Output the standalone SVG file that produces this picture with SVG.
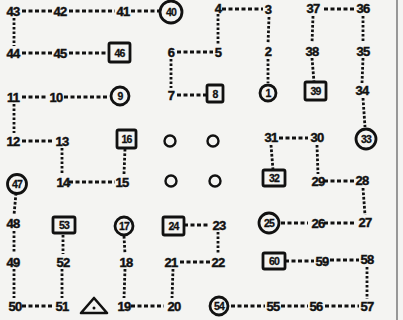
<svg xmlns="http://www.w3.org/2000/svg" width="403" height="320" viewBox="0 0 403 320">
<style>
text{font-family:"Liberation Sans",Arial,sans-serif;font-weight:bold;font-size:13px;fill:#111;stroke:#111;stroke-width:0.45;text-anchor:middle;letter-spacing:-0.8px}
.c text,.b text{font-size:10.5px;stroke-width:0.3}
.c circle{fill:none;stroke:#111;stroke-width:2.8}
.b rect{fill:none;stroke:#111;stroke-width:2.8}
.o circle{fill:none;stroke:#111;stroke-width:2.4}
#connectors line{stroke:#111;stroke-width:2.8}
#connectors .h line{stroke-dasharray:4 2.5}
#connectors .v line{stroke-dasharray:2.6 1.9}
</style>
<rect width="403" height="320" fill="#f4f4f2"/>
<line x1="397" y1="0" x2="397" y2="320" stroke="#666" stroke-width="1.3"/>
<g id="connectors">
<g class="h">
<line x1="22" y1="11" x2="53" y2="11"/><line x1="69" y1="11" x2="115" y2="11"/><line x1="131" y1="11" x2="159" y2="11"/>
<line x1="222" y1="9" x2="263" y2="9"/><line x1="324" y1="9" x2="356" y2="9"/>
<line x1="22" y1="53" x2="53" y2="53"/><line x1="69" y1="53" x2="108" y2="53"/><line x1="177" y1="52" x2="213" y2="52"/>
<line x1="22" y1="97" x2="48" y2="97"/><line x1="64" y1="97" x2="108" y2="97"/><line x1="177" y1="95" x2="206" y2="95"/>
<line x1="22" y1="141" x2="53" y2="141"/><line x1="279" y1="138" x2="308" y2="138"/>
<line x1="69" y1="182" x2="115" y2="182"/><line x1="324" y1="181" x2="355" y2="181"/>
<line x1="184" y1="225" x2="210" y2="225"/><line x1="281" y1="223" x2="308" y2="223"/><line x1="324" y1="223" x2="356" y2="223"/>
<line x1="180" y1="262" x2="210" y2="262"/><line x1="285" y1="261" x2="314" y2="261"/><line x1="330" y1="260" x2="359" y2="260"/>
<line x1="22" y1="306" x2="53" y2="306"/><line x1="131" y1="306" x2="164" y2="306"/><line x1="231" y1="306" x2="265" y2="306"/><line x1="281" y1="306" x2="308" y2="306"/><line x1="325" y1="306" x2="359" y2="306"/>
</g>
<g class="v">
<line x1="14" y1="18" x2="14" y2="46"/><line x1="14" y1="104" x2="14" y2="133"/>
<line x1="16" y1="193" x2="14" y2="215"/><line x1="14" y1="231" x2="14" y2="253"/><line x1="14" y1="269" x2="14" y2="298"/>
<line x1="62" y1="148" x2="62" y2="174"/><line x1="62" y1="269" x2="62" y2="298"/><line x1="63" y1="235" x2="63" y2="254"/>
<line x1="124" y1="174" x2="125" y2="149"/><line x1="124" y1="236" x2="125" y2="254"/><line x1="125" y1="269" x2="124" y2="298"/>
<line x1="171" y1="59" x2="171" y2="88"/><line x1="173" y1="269" x2="172" y2="298"/>
<line x1="218" y1="14" x2="218" y2="45"/><line x1="218" y1="232" x2="218" y2="254"/>
<line x1="269" y1="17" x2="268" y2="44"/><line x1="268" y1="59" x2="268" y2="83"/><line x1="271" y1="145" x2="273" y2="170"/>
<line x1="313" y1="16" x2="312" y2="43"/><line x1="312" y1="58" x2="314" y2="82"/><line x1="317" y1="145" x2="318" y2="174"/>
<line x1="363" y1="16" x2="363" y2="43"/><line x1="363" y1="58" x2="362" y2="83"/><line x1="363" y1="98" x2="365" y2="127"/>
<line x1="363" y1="188" x2="365" y2="215"/><line x1="367" y1="267" x2="367" y2="299"/>
</g>
</g>
<g id="n43"><text x="13" y="15.5">43</text></g>
<g id="n42"><text x="60" y="15.5">42</text></g>
<g id="n41"><text x="123" y="15.5">41</text></g>
<g id="n40" class="c"><circle cx="171" cy="12" r="11"/><text x="171" y="16">40</text></g>
<g id="n4"><text x="218" y="12.5">4</text></g>
<g id="n3"><text x="268" y="13.5">3</text></g>
<g id="n37"><text x="313" y="12.5">37</text></g>
<g id="n36"><text x="363" y="12.5">36</text></g>
<g id="n44"><text x="13" y="57.5">44</text></g>
<g id="n45"><text x="60" y="57.5">45</text></g>
<g id="n46" class="b"><rect x="109" y="43" width="21" height="19" rx="1.5"/><text x="119.5" y="56.5">46</text></g>
<g id="n6"><text x="171" y="56.5">6</text></g>
<g id="n5"><text x="218" y="56.5">5</text></g>
<g id="n2"><text x="268" y="55.5">2</text></g>
<g id="n38"><text x="312" y="55.5">38</text></g>
<g id="n35"><text x="363" y="55.5">35</text></g>
<g id="n11"><text x="13" y="101.5">11</text></g>
<g id="n10"><text x="56" y="101.5">10</text></g>
<g id="n9" class="c"><circle cx="120" cy="96" r="9"/><text x="120" y="100">9</text></g>
<g id="n7"><text x="171" y="99.5">7</text></g>
<g id="n8" class="b"><rect x="207" y="85" width="16" height="17" rx="1.5"/><text x="215" y="97.5">8</text></g>
<g id="n1" class="c"><circle cx="268" cy="93" r="8"/><text x="268" y="97">1</text></g>
<g id="n39" class="b"><rect x="305" y="82" width="21" height="18" rx="1.5"/><text x="315.5" y="95">39</text></g>
<g id="n34"><text x="362" y="94.5">34</text></g>
<g id="n12"><text x="13" y="145.5">12</text></g>
<g id="n13"><text x="62" y="145.5">13</text></g>
<g id="n16" class="b"><rect x="117" y="130" width="19" height="18" rx="1.5"/><text x="126.5" y="143">16</text></g>
<g id="o1" class="o"><circle cx="170" cy="141" r="5.5"/></g>
<g id="o2" class="o"><circle cx="213" cy="141" r="5.5"/></g>
<g id="n31"><text x="271" y="141.5">31</text></g>
<g id="n30"><text x="317" y="141.5">30</text></g>
<g id="n33" class="c"><circle cx="366" cy="139" r="10"/><text x="366" y="143">33</text></g>
<g id="n47" class="c"><circle cx="17" cy="184" r="9.5"/><text x="17" y="188">47</text></g>
<g id="n14"><text x="63" y="186.5">14</text></g>
<g id="n15"><text x="122" y="186.5">15</text></g>
<g id="o3" class="o"><circle cx="171" cy="181" r="5.5"/></g>
<g id="o4" class="o"><circle cx="215" cy="181" r="5.5"/></g>
<g id="n32" class="b"><rect x="263" y="170" width="22" height="16" rx="1.5"/><text x="274" y="182">32</text></g>
<g id="n29"><text x="318" y="185.5">29</text></g>
<g id="n28"><text x="362" y="184.5">28</text></g>
<g id="n48"><text x="13" y="227.5">48</text></g>
<g id="n53" class="b"><rect x="53" y="217" width="22" height="16" rx="1.5"/><text x="64" y="229">53</text></g>
<g id="n17" class="c"><circle cx="124" cy="226" r="9"/><text x="124" y="230">17</text></g>
<g id="n24" class="b"><rect x="163" y="217" width="21" height="18" rx="1.5"/><text x="173.5" y="230">24</text></g>
<g id="n23"><text x="219" y="229.5">23</text></g>
<g id="n25" class="c"><circle cx="269" cy="223" r="10"/><text x="269" y="227">25</text></g>
<g id="n26"><text x="318" y="227.5">26</text></g>
<g id="n27"><text x="365" y="226.5">27</text></g>
<g id="n49"><text x="13" y="266.5">49</text></g>
<g id="n52"><text x="63" y="266.5">52</text></g>
<g id="n18"><text x="126" y="266.5">18</text></g>
<g id="n21"><text x="171" y="266.5">21</text></g>
<g id="n22"><text x="218" y="266.5">22</text></g>
<g id="n60" class="b"><rect x="263" y="253" width="22" height="16" rx="1.5"/><text x="274" y="265">60</text></g>
<g id="n59"><text x="322" y="265.5">59</text></g>
<g id="n58"><text x="367" y="263.5">58</text></g>
<g id="n50"><text x="15" y="310.5">50</text></g>
<g id="n51"><text x="62" y="310.5">51</text></g>
<g id="tri"><polygon points="94,298 81,313 107,313" fill="none" stroke="#111" stroke-width="2.6" stroke-linejoin="round"/><circle cx="94" cy="308" r="1.5" fill="#111"/></g>
<g id="n19"><text x="124" y="310.5">19</text></g>
<g id="n20"><text x="174" y="310.5">20</text></g>
<g id="n54" class="c"><circle cx="219" cy="306" r="9"/><text x="219" y="310">54</text></g>
<g id="n55"><text x="273" y="310.5">55</text></g>
<g id="n56"><text x="316" y="310.5">56</text></g>
<g id="n57"><text x="367" y="310.5">57</text></g>
</svg>
